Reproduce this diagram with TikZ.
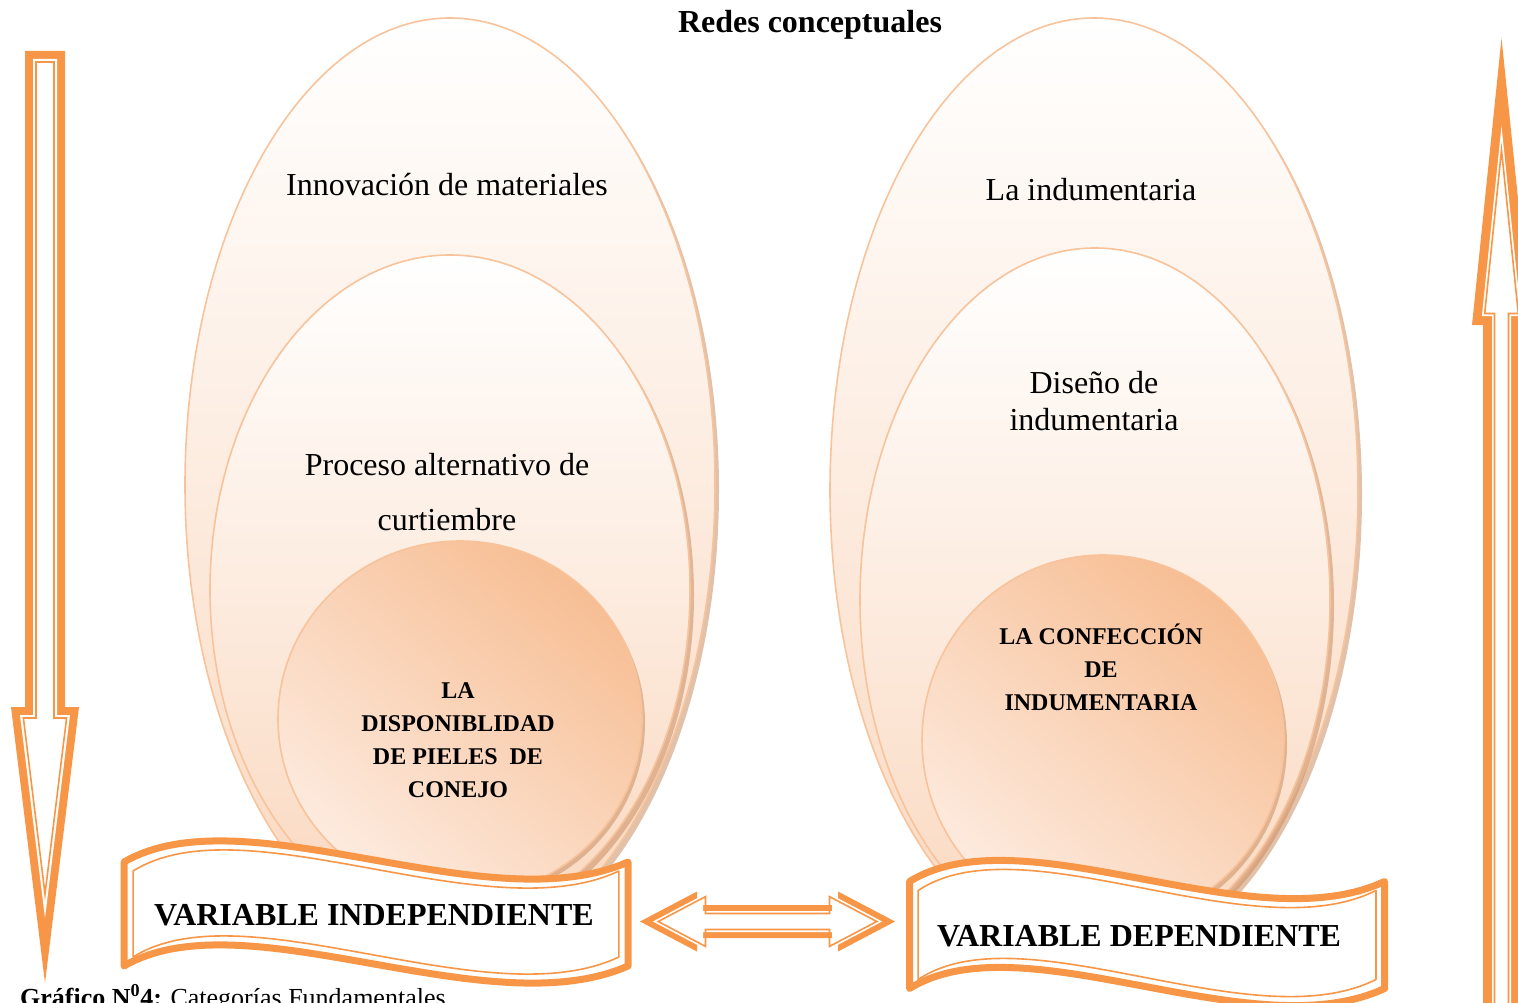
\documentclass[tikz,border=0pt]{standalone}
\usepackage{fontspec}
\setmainfont{Liberation Serif}
\usepackage{xcolor}
\usepackage{tikz}
\usetikzlibrary{calc,positioning}
\definecolor{orng}{HTML}{F79646}
\definecolor{peachline}{HTML}{F8C39B}
\definecolor{peachlow}{HTML}{FAD8BF}
\definecolor{peachhigh}{HTML}{F7BE94}
\definecolor{peachsoft}{HTML}{FDEBDF}
\definecolor{rim}{HTML}{C98E63}
\definecolor{ink}{HTML}{000000}
\tikzset{
  egg/.style={draw=peachline, line width=1.6pt, top color=white, bottom color=peachlow},
  yolk/.style={draw=peachline, line width=1.6pt, top color=peachhigh, bottom color=peachsoft, shading angle=-40},
  rimshade/.style={fill=rim, opacity=0.55},
  ribbon/.style={draw=orng, line width=7pt, fill=white, line join=round},
  ribbonin/.style={draw=orng, line width=1.6pt, line join=round},
  hollowin/.style={draw=orng, line width=1.6pt},
  lab/.style={text=ink, font=\fontsize{32}{37}\selectfont, align=center},
  labcore/.style={text=ink, font=\bfseries\fontsize{24}{33}\selectfont, align=center},
  labvar/.style={text=ink, font=\bfseries\fontsize{32}{38}\selectfont},
}
\newcommand{\ribbonpath}[2]{(#2,#2) .. controls (120,#2-70) and (360,#2+62) .. (500-#2,#2) -- (500-#2,#1-#2) .. controls (360,#1-#2+62) and (120,#1-#2-70) .. (#2,#1-#2) -- cycle}
\begin{document}
\begin{tikzpicture}[x=1pt, y=-1pt]
\useasboundingbox (0,0) rectangle (1518,1003);
% left set of ellipses
\fill[rimshade] (454,490) ellipse [x radius=265, y radius=467];
\draw[egg] (450,485) ellipse [x radius=265, y radius=467];
\fill[rimshade] (454,595) ellipse [x radius=240, y radius=335];
\draw[egg] (450,590) ellipse [x radius=240, y radius=335];
\fill[rimshade] (463,723) ellipse [x radius=182, y radius=178];
\draw[yolk] (460,719) ellipse [x radius=182, y radius=178];
% right set of ellipses
\fill[rimshade] (1098,495) ellipse [x radius=264, y radius=472];
\draw[egg] (1094,490) ellipse [x radius=264, y radius=472];
\fill[rimshade] (1099,605) ellipse [x radius=235, y radius=352];
\draw[egg] (1095,600) ellipse [x radius=235, y radius=352];
\fill[rimshade] (1106,744) ellipse [x radius=181, y radius=185];
\draw[yolk] (1103,740) ellipse [x radius=181, y radius=185];

\node[labvar, anchor=base] (title) at (810,33) {Redes conceptuales};
\node[lab] (innov) at (447,185) {Innovación de materiales};
\node[lab, font=\fontsize{32}{55}\selectfont] (proceso) at (447,492) {Proceso alternativo de\\curtiembre};
\node[labcore] (pieles) at (458,740) {LA\\DISPONIBLIDAD\\DE PIELES~~DE\\CONEJO};
\node[lab] (indum) at (1091,190) {La indumentaria};
\node[lab] (diseno) at (1094,401) {Diseño de\\indumentaria};
\node[labcore] (confec) at (1101,667) {LA CONFECCIÓN\\DE\\INDUMENTARIA};

% banners
\draw[ribbon, shift={(124,862)}, xscale=1.008] \ribbonpath{104}{0};
\draw[ribbonin, shift={(124,862)}, xscale=1.008] \ribbonpath{104}{9};
\draw[ribbon, shift={(909.5,881.5)}, xscale=0.95] \ribbonpath{107}{0};
\draw[ribbonin, shift={(909.5,881.5)}, xscale=0.95] \ribbonpath{107}{9};
\node[labvar] (varind) at (374,915.5) {VARIABLE INDEPENDIENTE};
\node[labvar] (vardep) at (1139,936.5) {VARIABLE DEPENDIENTE};

% double arrow between the banners
\fill[orng] (640,921.5) -- (697,891.5) -- (697,905) -- (838,905) -- (838,891.5) -- (895,921.5) -- (838,951.5) -- (838,938) -- (697,938) -- (697,951.5) -- cycle;
\fill[white] (652.9,921.5) -- (703,895.1) -- (703,911) -- (832,911) -- (832,895.1) -- (882.1,921.5) -- (832,947.9) -- (832,932) -- (703,932) -- (703,947.9) -- cycle;
\draw[hollowin] (658.2,921.5) -- (705.5,896.6) -- (705.5,913.5) -- (829.5,913.5) -- (829.5,896.6) -- (876.8,921.5) -- (829.5,946.4) -- (829.5,929.5) -- (705.5,929.5) -- (705.5,946.4) -- cycle;

% left arrow, down
\fill[orng] (25,51) -- (65,51) -- (65,707) -- (79,707) -- (45,983) -- (11,707) -- (25,707) -- cycle;
\fill[white] (33,59) -- (57,59) -- (57,715) -- (70,715) -- (45,918) -- (20,715) -- (33,715) -- cycle;
\draw[hollowin] (36,62) -- (54,62) -- (54,718) -- (66.6,718) -- (45,894) -- (23.4,718) -- (36,718) -- cycle;

% right arrow, up
\fill[orng] (1483,1010) -- (1483,325) -- (1472,325) -- (1501.5,38) -- (1531,325) -- (1520,325) -- (1520,1010) -- cycle;
\fill[white] (1492,1010) -- (1492,316) -- (1481.9,316) -- (1501.5,126) -- (1521.1,316) -- (1511,316) -- (1511,1010) -- cycle;
\draw[hollowin] (1494.5,1010) -- (1494.5,313.5) -- (1484.7,313.5) -- (1501.5,150) -- (1518.3,313.5) -- (1508.5,313.5) -- (1508.5,1010);

\node[text=ink, font=\fontsize{26}{31}\selectfont, anchor=base west, inner sep=0pt] (caption) at (20,1006) {\textbf{Gráfico N\textsuperscript{0}4:} Categorías Fundamentales};
\end{tikzpicture}
\end{document}
